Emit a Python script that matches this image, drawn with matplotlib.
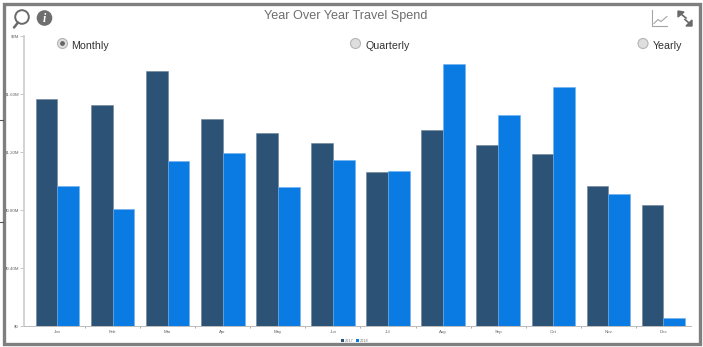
import numpy as np
import matplotlib
matplotlib.use('Agg')
import matplotlib.pyplot as plt
from matplotlib.patches import Circle, Rectangle

W, H = 703, 347

months = ['Jan', 'Feb', 'Mar', 'Apr', 'May', 'Jun', 'Jul', 'Aug', 'Sep', 'Oct', 'Nov', 'Dec']
spend_2017 = [1.565, 1.525, 1.76, 1.43, 1.33, 1.265, 1.065, 1.35, 1.25, 1.185, 0.965, 0.835]
spend_2018 = [0.965, 0.81, 1.135, 1.19, 0.96, 1.145, 1.07, 1.805, 1.455, 1.65, 0.91, 0.055]
y_ticks = [0, 0.4, 0.8, 1.2, 1.6, 2.0]
y_labels = ['$0', '$0.40M', '$0.80M', '$1.20M', '$1.60M', '$2M']

DARK = '#2c5275'
BLUE = '#0a7be2'
GREY = '#7f7f7f'

plt.rcParams['font.family'] = ['Liberation Sans', 'DejaVu Sans']

fig = plt.figure(figsize=(W / 100, H / 100), dpi=100, facecolor='white')

# chart area, placed in pixels
left, right, top, bottom = 24, 691, 36, 326
ax = fig.add_axes([left / W, 1 - bottom / H, (right - left) / W, (bottom - top) / H])

x = np.arange(len(months))
width = 0.395
ax.bar(x - width / 2, spend_2017, width, color=DARK, edgecolor='#6f8499', linewidth=0.4, label='2017')
ax.bar(x + width / 2, spend_2018, width, color=BLUE, edgecolor='#6fb0ee', linewidth=0.4, label='2018')

ax.set_xlim(-0.608, 11.5)
ax.set_ylim(0, 2)
ax.set_yticks(y_ticks)
ax.set_yticklabels(y_labels, fontsize=3.2, color='#666666')
ax.set_xticks(x)
ax.set_xticklabels(months, fontsize=3.2, color='#666666')
ax.tick_params(axis='x', length=0, pad=3)
ax.tick_params(axis='y', length=3, width=0.6, color='#bbbbbb', pad=0.5)
ax.set_xticks(x[:-1] + 0.5, minor=True)
ax.tick_params(axis='x', which='minor', length=1.5, width=0.5, color='#888888')
for side in ['top', 'right']:
    ax.spines[side].set_visible(False)
ax.spines['left'].set_color('#cccccc')
ax.spines['left'].set_linewidth(1.2)
ax.spines['bottom'].set_color('#bbbbbb')
ax.spines['bottom'].set_linewidth(0.7)

# overlay for the panel frame, title, controls and icons
ov = fig.add_axes([0, 0, 1, 1], facecolor='none')
ov.set_xlim(0, W)
ov.set_ylim(H, 0)
ov.axis('off')

ov.add_patch(Rectangle((3.5, 3.5), 696, 340, fill=False, edgecolor=GREY, linewidth=2.4))
ov.plot([0, 3], [120, 120], color='#555555', lw=0.8)
ov.plot([0, 3], [222, 222], color='#555555', lw=0.8)

ov.text(345.5, 15.5, 'Year Over Year Travel Spend', ha='center', va='center', fontsize=9.05, color='#6e6e6e')

# radio buttons
for cx, cy, tx, label, on in [(62.5, 43.5, 71, 'Monthly', True),
                              (355.5, 43.5, 365, 'Quarterly', False),
                              (643, 43.5, 652.5, 'Yearly', False)]:
    ov.add_patch(Circle((cx, cy), 5, facecolor='#dedede', edgecolor='#b5b5b5', linewidth=0.8))
    if on:
        ov.add_patch(Circle((cx, cy), 2.4, facecolor='#666666', edgecolor='none'))
    ov.text(tx, cy + 2, label, ha='left', va='center', fontsize=7.7, color='#333333',
            family=['Liberation Sans'])

# magnifier icon
ov.add_patch(Circle((22, 17), 6.8, fill=False, edgecolor='#6a6a6a', linewidth=1.4))
ov.plot([18, 14], [22.5, 27.5], color='#6a6a6a', lw=1.8, solid_capstyle='round')

# info icon
ov.add_patch(Circle((44.5, 18), 7.8, facecolor='#6e6e6e', edgecolor='none'))
ov.text(44.5, 18.5, 'i', ha='center', va='center', fontsize=8.5, color='white', weight='bold',
        style='italic', family=['Liberation Serif'])

# line chart icon
ov.plot([652, 652, 667], [10, 26, 26], color='#a5a5a5', lw=0.8)
ov.plot([654, 658, 661, 667], [23.5, 19.5, 21.5, 16.5], color='#a5a5a5', lw=0.8)

# expand icon
ov.fill([678, 684, 678], [11, 12, 17], color='#6a6a6a')
ov.plot([681, 686], [14, 18], color='#6a6a6a', lw=1.2)
ov.fill([692, 692, 686], [26, 20, 26], color='#6a6a6a')
ov.plot([689, 685], [23, 19.5], color='#6a6a6a', lw=1.2)

# legend
ov.add_patch(Rectangle((341, 339.2), 2.6, 2.6, facecolor=DARK, edgecolor='none'))
ov.text(345, 340.5, '2017', fontsize=2.8, color='#777777', va='center')
ov.add_patch(Rectangle((356, 339.2), 2.6, 2.6, facecolor=BLUE, edgecolor='none'))
ov.text(360, 340.5, '2018', fontsize=2.8, color='#777777', va='center')

fig.savefig('out.png', dpi=100)
